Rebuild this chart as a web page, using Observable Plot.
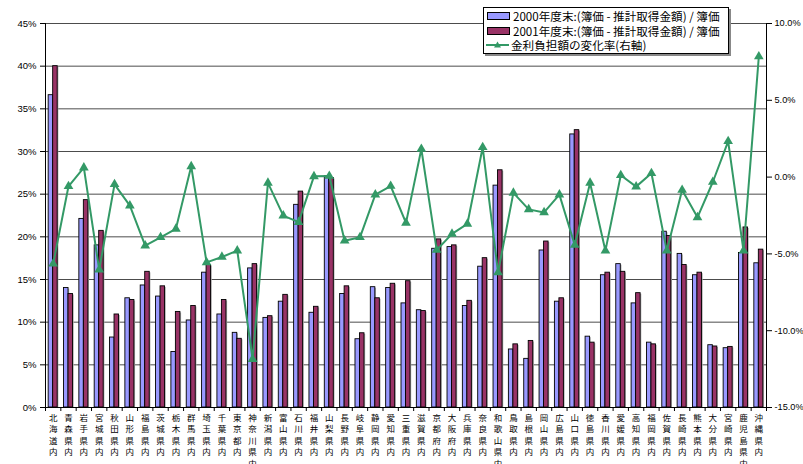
<!DOCTYPE html>
<html>
<head>
<meta charset="utf-8">
<script src="https://cdn.jsdelivr.net/npm/d3@7"></script>
<script src="https://cdn.jsdelivr.net/npm/@observablehq/plot@0.6"></script>
<style>
  html, body { margin: 0; padding: 0; background: #fff; }
  #wrap { position: relative; width: 803px; height: 464px; }
  #legend {
    position: absolute; left: 483px; top: 7px; width: 246px; height: 47px;
    border: 1px solid #000; background: #fff; box-shadow: 2px 2px 0 #888;
    font-family: "Noto Sans CJK JP", sans-serif; font-size: 11.6px; line-height: 14.5px; color: #000;
    box-sizing: border-box; padding-top: 1px;
  }
  .row { display: flex; align-items: center; height: 14.5px; line-height: 14.5px; white-space: nowrap; overflow: visible; }
  .sw { width: 21px; height: 6px; border: 1px solid #000; margin: 0 3px 0 3px; flex: none; }
  .ln { width: 23px; height: 10px; margin: 0 2px 0 2px; flex: none; }
</style>
</head>
<body>
<div id="wrap"></div>
<script>
const prefs = ["北海道内","青森県内","岩手県内","宮城県内","秋田県内","山形県内","福島県内","茨城県内","栃木県内","群馬県内","埼玉県内","千葉県内","東京都内","神奈川県内","新潟県内","富山県内","石川県内","福井県内","山梨県内","長野県内","岐阜県内","静岡県内","愛知県内","三重県内","滋賀県内","京都府内","大阪府内","兵庫県内","奈良県内","和歌山県内","鳥取県内","島根県内","岡山県内","広島県内","山口県内","徳島県内","香川県内","愛媛県内","高知県内","福岡県内","佐賀県内","長崎県内","熊本県内","大分県内","宮崎県内","鹿児島県内","沖縄県内"];
const v2000 = [36.6,14.0,22.1,19.0,8.2,12.8,14.3,13.0,6.5,10.2,15.8,10.9,8.75,16.3,10.5,12.4,23.75,11.1,27.1,13.3,8.0,14.1,14.0,12.2,11.4,18.6,18.8,11.9,16.5,26.0,6.8,5.7,18.4,12.4,32.0,8.3,15.5,16.8,12.2,7.6,20.6,18.0,15.5,7.3,6.95,18.1,16.9];
const v2001 = [40.0,13.3,24.3,20.7,10.9,12.6,15.9,14.2,11.2,11.9,16.7,12.6,8.05,16.8,10.7,13.2,25.3,11.8,26.9,14.2,8.7,12.8,14.5,14.8,11.3,19.7,19.0,12.5,17.5,27.8,7.4,7.8,19.45,12.8,32.5,7.6,15.8,15.9,13.4,7.4,20.1,16.7,15.8,7.15,7.1,21.1,18.5];
const rate = [-5.64,-0.6,0.62,-6.03,-0.47,-1.86,-4.46,-3.92,-3.37,0.7,-5.55,-5.2,-4.79,-11.85,-0.38,-2.51,-2.93,0.05,0.07,-4.14,-3.92,-1.14,-0.58,-2.98,1.83,-4.75,-3.7,-3.05,1.94,-6.2,-1.03,-2.1,-2.3,-1.14,-4.42,-0.38,-4.79,0.12,-0.62,0.25,-4.79,-0.84,-2.62,-0.32,2.33,-4.79,7.85];
const leftTicks = [0,5,10,15,20,25,30,35,40,45];
const rightTicks = [-15,-10,-5,0,5,10];
const legendLabels = ["2000年度末:(簿価 - 推計取得金額) / 簿価","2001年度末:(簿価 - 推計取得金額) / 簿価","金利負担額の変化率(右軸)"];

const W = 803, H = 464, mL = 45, mR = 37, mT = 23, mB = 57;
const bw = (W - mL - mR) / prefs.length;
const barW = 4.5;
const colBlue = "#9999FF", colRed = "#993366", colGreen = "#339966";

const leftMax = 45, rMin = -15, rMax = 10;
const toLeft = v => (v - rMin) * leftMax / (rMax - rMin);
const fromLeft = p => p * (rMax - rMin) / leftMax + rMin;

const data = prefs.map((p, i) => ({pref: p, a: v2000[i], b: v2001[i], r: toLeft(rate[i])}));

const chart = Plot.plot({
  width: W, height: H,
  marginLeft: mL, marginRight: mR, marginTop: mT, marginBottom: mB,
  style: {fontFamily: "'Liberation Sans', Arial, sans-serif", fontSize: "9.5px", color: "#000", background: "#fff"},
  x: {type: "band", domain: prefs, padding: 0, round: false, axis: null},
  y: {domain: [0, leftMax], axis: null},
  marks: [
    Plot.ruleY(leftTicks.filter(d => d > 0), {stroke: "#000", strokeOpacity: 0.7}),
    Plot.barY(data, {x: "pref", y: "a", fill: "#aaa", dx: 1.2, dy: 1, insetLeft: bw/2 - barW, insetRight: bw/2}),
    Plot.barY(data, {x: "pref", y: "a", fill: colBlue, stroke: "#000", strokeWidth: 0.9, insetLeft: bw/2 - barW, insetRight: bw/2}),
    Plot.barY(data, {x: "pref", y: "b", fill: "#aaa", dx: 1.2, dy: 1, insetLeft: bw/2, insetRight: bw/2 - barW}),
    Plot.barY(data, {x: "pref", y: "b", fill: colRed, stroke: "#000", strokeWidth: 0.9, insetLeft: bw/2, insetRight: bw/2 - barW}),
    Plot.ruleY([0], {stroke: "#000"}),
    Plot.ruleX([prefs[0]], {dx: -bw/2, stroke: "#000"}),
    Plot.ruleX([prefs[prefs.length-1]], {dx: bw/2, stroke: "#000"}),
    Plot.ruleX(prefs, {dx: -bw/2, stroke: "#000", insetTop: H - mT - mB, insetBottom: -4}),
    Plot.ruleX([prefs[prefs.length-1]], {dx: bw/2, stroke: "#000", insetTop: H - mT - mB, insetBottom: -4}),
    Plot.line(data, {x: "pref", y: "r", stroke: colGreen, strokeWidth: 2}),
    Plot.dot(data, {x: "pref", y: "r", symbol: "triangle", fill: colGreen, r: 3.6}),
    Plot.axisY({ticks: leftTicks, tickFormat: d => d + "%", tickSize: 5, tickPadding: 4}),
    Plot.axisY({anchor: "right", ticks: rightTicks.map(toLeft), tickFormat: d => fromLeft(d).toFixed(1) + "%", tickSize: 5, tickPadding: 3, fontSize: 9.2}),
    Plot.text(prefs, {x: d => d, frameAnchor: "bottom", dy: 5.5, lineAnchor: "top",
      text: d => d.split("").join("\n"), lineHeight: 1.34, fontSize: 8.5,
      fontFamily: "'Noto Sans CJK JP', sans-serif", fill: "#000"})
  ]
});

const wrap = document.getElementById("wrap");
wrap.appendChild(chart);

const legend = document.createElement("div");
legend.id = "legend";
const tri = `<svg class="ln" viewBox="0 0 23 10"><line x1="0" y1="5" x2="23" y2="5" stroke="${colGreen}" stroke-width="2"/><path d="M11.5,1.5 L15,7.5 L8,7.5 Z" fill="${colGreen}"/></svg>`;
legend.innerHTML =
  `<div class="row"><div class="sw" style="background:${colBlue}"></div><span>${legendLabels[0]}</span></div>` +
  `<div class="row"><div class="sw" style="background:${colRed}"></div><span>${legendLabels[1]}</span></div>` +
  `<div class="row">${tri}<span>${legendLabels[2]}</span></div>`;
wrap.appendChild(legend);
</script>
</body>
</html>
